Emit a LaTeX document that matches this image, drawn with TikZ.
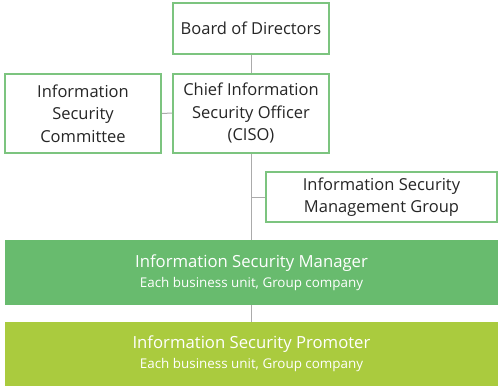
\documentclass[tikz,border=0pt]{standalone}
\usepackage{fontspec}
\setmainfont{Open Sans}
\definecolor{boxline}{HTML}{7CC47F}
\definecolor{conn}{HTML}{ABABAB}
\definecolor{mgrfill}{HTML}{68BB6E}
\definecolor{profill}{HTML}{AACB3E}
\begin{document}
\begin{tikzpicture}[x=1pt,y=-1pt,
  obox/.style={draw=boxline,line width=2pt,fill=white,inner sep=0pt,align=center,
    font=\fontsize{16.5}{22.5}\selectfont,text=black!85},
  band/.style={draw=none,inner sep=0pt,align=center,text=white,
    font=\fontsize{16.7}{22}\selectfont},
  conline/.style={draw=conn,line width=1pt}]
\useasboundingbox (0,0) rectangle (500,389);
\node[obox,minimum width=156pt,minimum height=51pt] (board) at (251,28.5) {Board of Directors};
\node[obox,minimum width=156pt,minimum height=79pt] (ciso) at (251,113) {Chief Information\\Security Officer\\(CISO)};
\node[obox,minimum width=156pt,minimum height=79pt] (comm) at (83,113.5) {Information\\Security\\Committee};
\node[obox,minimum width=231pt,minimum height=50pt] (mg) at (381.5,197) {Information Security\\Management Group};
\node[band,fill=mgrfill,minimum width=493pt,minimum height=65pt] (mgr) at (251.5,272.5)
  {Information Security Manager\\[-2pt]{\fontsize{13.4}{18}\selectfont Each business unit, Group company}};
\node[band,fill=profill,minimum width=493pt,minimum height=64pt] (pro) at (251.5,354)
  {Information Security Promoter\\[-2pt]{\fontsize{13.4}{18}\selectfont Each business unit, Group company}};
\coordinate (jn) at (ciso.south |- mg.west);
\draw[conline] (board.south) -- (ciso.north);
\draw[conline] (comm.east) -- (ciso.west);
\draw[conline] (ciso.south) -- (mgr.north -| ciso.south);
\draw[conline] (jn) -- (mg.west);
\draw[conline] (mgr.south -| ciso.south) -- (pro.north -| ciso.south);
\end{tikzpicture}
\end{document}
